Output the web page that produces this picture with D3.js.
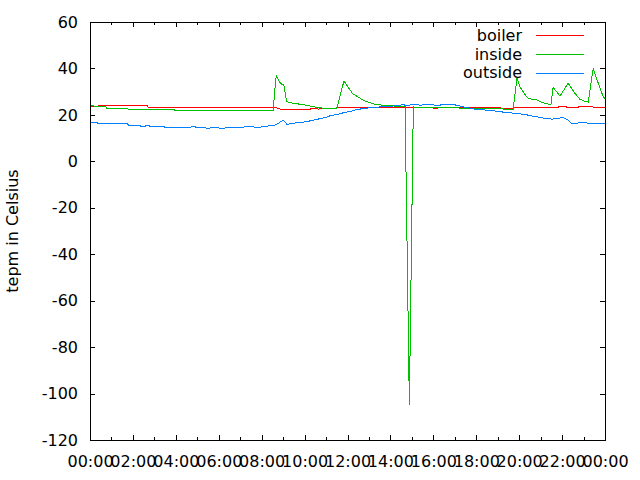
<!DOCTYPE html>
<html><head><meta charset="utf-8">
<script src="https://cdn.jsdelivr.net/npm/d3@7"></script>
<style>body{margin:0;background:#fff}svg{display:block}</style>
</head><body>
<svg id="c" width="640" height="480"></svg>
<script>
// ---- data ----
const seriesNames = ["boiler", "inside", "outside"];
const seriesColors = ["#ff0000", "#00c000", "#0080ff"];
const yLabel = "tepm in Celsius";
const yTickValues = [-120, -100, -80, -60, -40, -20, 0, 20, 40, 60];

const boilerTimes = ["00:00","00:20","00:25","02:40","02:45","02:55","08:35","08:45","08:55","10:15","10:20","10:35","10:38","10:45","11:30","11:35","15:55","16:00","16:10","16:15","19:08","19:10","19:45","19:48","21:50","21:53","22:10","22:13","22:45","22:48","23:25","23:28","24:00"];
const boilerValues = [23.8,23.6,23.9,23.9,23.0,23.3,23.3,22.8,22.4,22.4,22.8,22.8,22.4,22.8,22.8,23.3,23.3,22.8,22.8,23.3,23.3,22.8,22.8,23.3,23.3,23.8,23.8,23.3,23.3,23.6,23.6,23.3,23.3];

const insideTimes = ["00:00","00:10","00:12","00:45","00:47","01:45","01:47","03:55","03:57","08:32","08:37","08:41","08:45","08:49","08:57","09:02","09:10","09:28","09:52","10:15","10:38","11:00","11:30","11:50","12:01","12:15","12:29","12:43","13:03","13:17","13:37","14:07","14:27","14:41","14:53","15:04","16:30","17:30","19:15","19:17","19:43","19:54","20:02","20:14","20:25","20:50","21:07","21:26","21:29","21:35","21:54","22:17","22:36","22:50","23:07","23:13","23:27","23:38","23:55","24:00"];
const insideValues = [24.2,24.2,23.4,23.4,22.8,22.8,22.4,22.4,22.0,22.0,31.0,37.2,35.5,34.3,33.1,33.0,25.7,25.0,24.5,23.8,23.1,22.8,22.8,34.6,32.1,29.0,27.8,26.4,25.2,24.5,24.2,23.9,23.5,23.5,-105,23.4,23.1,22.9,22.8,22.5,22.5,35.7,32.1,29.3,27.1,26.4,25.2,24.5,24.5,31.9,28.1,33.6,29.3,26.7,25.7,25.5,40.0,35.0,27.8,27.0];

const outsideTimes = ["00:00","00:20","00:23","01:45","01:48","02:20","02:22","02:35","02:37","02:45","02:47","03:27","03:29","04:42","04:45","04:53","04:55","05:24","05:25","05:35","05:37","05:58","06:03","06:17","06:20","07:00","07:22","07:50","08:09","08:23","08:37","08:51","09:00","09:11","09:28","09:53","10:15","10:38","10:57","11:11","11:31","11:39","11:53","12:07","12:21","12:35","12:49","13:11","13:39","14:07","14:27","14:35","14:46","15:00","15:23","15:56","16:10","16:27","16:55","17:15","17:29","17:56","18:24","18:52","19:20","19:48","20:16","20:36","20:53","21:12","21:32","21:49","22:03","22:17","22:25","23:04","23:13","24:00"];
const outsideValues = [16.6,16.6,16.1,16.1,15.5,15.5,15.1,15.1,15.5,15.5,15.1,15.1,14.6,14.6,15.1,15.1,14.6,14.6,14.2,14.2,14.6,14.6,14.2,14.2,14.6,14.6,15.0,14.6,15.0,15.3,15.6,16.8,17.8,15.9,16.4,16.8,17.4,18.2,18.8,19.6,20.2,20.5,21.1,21.4,22.1,22.5,22.8,23.2,23.5,23.8,24.2,24.5,23.9,24.5,24.2,24.5,23.9,24.5,24.5,23.8,23.3,22.5,22.1,21.7,21.1,20.7,20.2,19.5,19.1,18.5,18.2,18.5,18.9,17.8,16.4,16.6,16.4,16.4];

// ---- helpers ----
function toDate(hhmm) {
  const [h, m] = hhmm.split(":").map(Number);
  return new Date(2000, 0, 1, 0, h * 60 + m);
}
const series = [
  {name: seriesNames[0], color: seriesColors[0], pts: boilerTimes.map((t, i) => [toDate(t), boilerValues[i]])},
  {name: seriesNames[1], color: seriesColors[1], pts: insideTimes.map((t, i) => [toDate(t), insideValues[i]])},
  {name: seriesNames[2], color: seriesColors[2], pts: outsideTimes.map((t, i) => [toDate(t), outsideValues[i]])}
];

const L = 90, R = 605, T = 22, B = 440;
const FONT = "DejaVu Sans";
const FS = 16;

const x = d3.scaleTime().domain([toDate("00:00"), toDate("24:00")]).range([L, R]);
const y = d3.scaleLinear().domain([-120, 60]).range([B, T]);

const svg = d3.select("#c");
svg.append("rect").attr("width", 640).attr("height", 480).attr("fill", "#fff");

// data lines (drawn first, under border)
const line = d3.line().x(d => x(d[0])).y(d => y(d[1]));
series.forEach(s => {
  svg.append("path").datum(s.pts)
    .attr("d", line).attr("fill", "none")
    .attr("stroke", s.color).attr("stroke-width", 1)
    .attr("shape-rendering", "crispEdges");
});

// axes
function styleAxis(g) {
  g.select(".domain").remove();
  g.selectAll("line").attr("stroke", "#000").attr("shape-rendering", "crispEdges");
  g.selectAll("text").attr("font-family", FONT).attr("font-size", FS).attr("fill", "#000");
}
const majorX = d3.timeHour.every(2);
const minorX = d3.timeHour.every(1);

svg.append("g").attr("transform", `translate(0,${B})`)
  .call(d3.axisBottom(x).ticks(majorX).tickFormat(d3.timeFormat("%H:%M")).tickSizeInner(-5).tickSizeOuter(0).tickPadding(15.5))
  .call(styleAxis);
svg.append("g").attr("transform", `translate(0,${B})`)
  .call(d3.axisBottom(x).ticks(minorX).tickFormat("").tickSizeInner(-3).tickSizeOuter(0))
  .call(styleAxis);
svg.append("g").attr("transform", `translate(0,${T})`)
  .call(d3.axisTop(x).ticks(majorX).tickFormat("").tickSizeInner(-5).tickSizeOuter(0))
  .call(styleAxis);
svg.append("g").attr("transform", `translate(0,${T})`)
  .call(d3.axisTop(x).ticks(minorX).tickFormat("").tickSizeInner(-3).tickSizeOuter(0))
  .call(styleAxis);
svg.append("g").attr("transform", `translate(${L},0)`)
  .call(d3.axisLeft(y).tickValues(yTickValues).tickFormat(d => String(d)).tickSizeInner(-5).tickSizeOuter(0).tickPadding(12))
  .call(styleAxis);
svg.append("g").attr("transform", `translate(${R},0)`)
  .call(d3.axisRight(y).tickValues(yTickValues).tickFormat("").tickSizeInner(-5).tickSizeOuter(0))
  .call(styleAxis);

// border
svg.append("rect").attr("x", L + 0.5).attr("y", T + 0.5)
  .attr("width", R - L).attr("height", B - T)
  .attr("fill", "none").attr("stroke", "#000").attr("stroke-width", 1)
  .attr("shape-rendering", "crispEdges");

// y label
svg.append("text")
  .attr("transform", `translate(18,${(T + B) / 2}) rotate(-90)`)
  .attr("text-anchor", "middle")
  .attr("font-family", FONT).attr("font-size", FS).attr("fill", "#000")
  .text(yLabel);

// legend
series.forEach((s, i) => {
  const cy = 35 + i * 18.8;
  svg.append("text")
    .attr("x", 522).attr("y", cy + 5.8)
    .attr("text-anchor", "end")
    .attr("font-family", FONT).attr("font-size", FS).attr("fill", "#000")
    .text(s.name);
  svg.append("line")
    .attr("x1", 536).attr("x2", 584)
    .attr("y1", Math.round(cy) + 0.5).attr("y2", Math.round(cy) + 0.5)
    .attr("stroke", s.color).attr("stroke-width", 1)
    .attr("shape-rendering", "crispEdges");
});
</script>
</body></html>
